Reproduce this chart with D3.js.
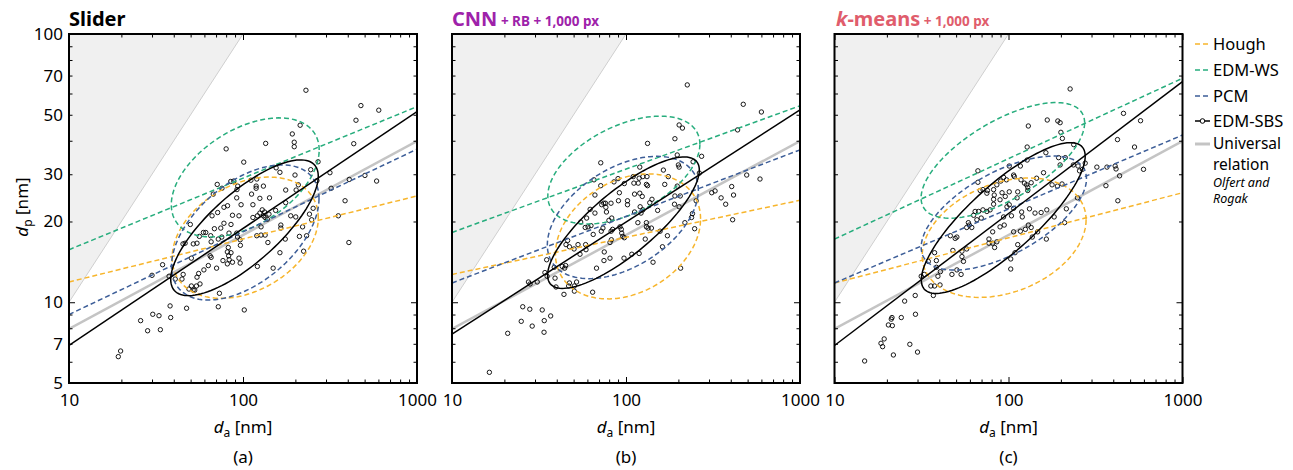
<!DOCTYPE html>
<html><head><meta charset="utf-8">
<script src="https://cdn.jsdelivr.net/npm/d3@7"></script>
<style>body{margin:0;background:#fff}text{font-family:"Noto Sans",sans-serif}</style>
</head><body>
<svg id="c" width="1293" height="470"></svg>
<script>
// ---------- data ----------
const methods = ["Hough", "EDM-WS", "PCM", "EDM-SBS"];
const methodColors = ["#f7b52c", "#27ad7d", "#3d5e98", "#000000"];
const panelTags = ["(a)", "(b)", "(c)"];
const xTickLabels = [10, 100, 1000];
const yTickLabels = [5, 7, 10, 20, 30, 50, 70, 100];
const lineEndsDa = [10, 1000];
const universalDp = [7.95, 39.9];

// fit lines: dp at da = 10 and da = 1000, order = methods
const sliderFitStart = [11.9, 15.7, 9.0, 6.9];
const sliderFitEnd   = [24.9, 53.6, 37.2, 51.4];
const cnnFitStart    = [12.7, 18.2, 11.8, 7.6];
const cnnFitEnd      = [24.0, 54.0, 37.0, 52.1];
const kmeansFitStart = [11.8, 17.2, 11.8, 6.9];
const kmeansFitEnd   = [25.6, 68.4, 42.0, 66.4];

// ellipses (log space): centre da, centre dp, half-width (decades), half-height (decades), correlation
const sliderEllDa = [103, 103, 103, 102];
const sliderEllDp = [17.4, 29.2, 18.2, 18.95];
const sliderEllSx = [0.42, 0.425, 0.424, 0.424];
const sliderEllSy = [0.226, 0.222, 0.252, 0.253];
const sliderEllR  = [0.33, 0.46, 0.5, 0.76];
const cnnEllDa = [102.7, 97.2, 95.9, 96.7];
const cnnEllDp = [17.6, 31.1, 20.7, 19.8];
const cnnEllSx = [0.417, 0.437, 0.434, 0.436];
const cnnEllSy = [0.233, 0.201, 0.228, 0.245];
const cnnEllR  = [0.28, 0.48, 0.45, 0.8];
const kmeansEllDa = [94.4, 92.8, 94, 93.3];
const kmeansEllDp = [17.4, 33.8, 21.5, 20.6];
const kmeansEllSx = [0.471, 0.47, 0.475, 0.471];
const kmeansEllSy = [0.2225, 0.2155, 0.2125, 0.281];
const kmeansEllR  = [0.3, 0.65, 0.6, 0.82];

// EDM-SBS particles [da, dp] (nm)
const sliderPoints = [[230,61.7],[476,54.1],[603,52.0],[446,47.7],[433,39.0],[213,45.7],[192,42.4],[197,39.5],[197,38.0],[135,39.1],
[80,37.3],[101,33.3],[155,31.7],[163,30.5],[199,29.8],[245,31.2],[270,33.4],[316,30.4],[408,28.7],[321,26.6],
[266,28.4],[85,28.2],[88.5,28.3],[71.1,27.5],[75.7,26.6],[93.3,27.1],[92.3,26.3],[111,28.5],[120,28.8],[119,27.1],
[119,26.6],[131,27.1],[176,26.2],[67.5,25.3],[112,25.3],[92,24.5],[125,24.4],[142,24.5],[202,26.2],[386,23.9],
[353,21.0],[406,16.7],[81.5,22.9],[77.7,22.6],[87,21.1],[94.8,21.0],[66.4,21.0],[71.5,21.6],[49.8,19.5],[68.5,18.8],
[74.5,18.9],[77.7,19.7],[85.3,19.5],[114,20.7],[121,21.0],[125,21.5],[129,22.1],[131,21.0],[134,20.7],[138,20.4],
[133,21.7],[97.5,23.1],[114,23.1],[154,22.0],[141,21.3],[188,21.0],[201,20.8],[241,21.3],[248,20.3],[165,19.4],
[165,18.9],[220,19.1],[127,19.1],[59.2,18.2],[61.1,18.2],[65.2,17.7],[56.1,17.6],[83.1,18.1],[92,18.1],[93,17.5],
[96.3,17.1],[72.1,17.2],[75.5,17.5],[51.8,16.5],[54.4,16.6],[65.6,16.8],[46.5,16.6],[120,17.7],[127,17.8],[134,17.8],
[139,16.7],[175,17.2],[211,17.6],[232,17.7],[96.6,16.3],[82.3,16.0],[81.3,15.4],[85.3,15.3],[82.7,14.9],[64.7,14.9],
[65.6,14.7],[223,15.5],[163,15.3],[50.5,14.6],[76.7,14.3],[81.3,13.9],[87,14.1],[83.3,14.4],[94.8,14.6],[96.3,14.0],
[70.5,13.4],[63.2,13.7],[59.6,13.2],[55.6,12.8],[54.4,12.4],[56.6,11.7],[50.5,11.5],[48.9,11.2],[51.7,11.1],[54,11.5],
[52.8,11.1],[121,13.6],[149,13.4],[73.2,10.8],[38.1,9.69],[47.4,9.5],[72.1,9.62],[101.7,9.36],[30.3,9.02],[32.9,8.91],
[38.4,8.77],[34.5,13.8],[30,12.6],[37.6,12.5],[40.8,12.2],[45.3,12.7],[44.6,12.2],[45.2,16.5],[502,29.7],[586,28.3],
[208,27.4],[253,22.4],[176,23.5],[25.8,8.54],[28.3,7.83],[33.5,7.9],[19.2,6.27],[19.8,6.58]];

const cnnPoints = [[225,64.6],[472,54.7],[600,51.2],[438,43.9],[202,45.8],[211,44.6],[191,40.7],[133,39.1],[197,35.4],[272,35.0],
[71.6,33.1],[200,32.5],[202,31.9],[243,33.4],[120,31.9],[164,31.1],[65.5,28.6],[71.6,27.2],[85.3,28.1],[90,28.9],
[97.8,27.7],[110,29.4],[119,29.0],[125,29.4],[132,29.4],[111,27.8],[117.6,27.8],[131,27.5],[133,27.2],[167,27.5],
[175,29.4],[197,27.1],[91.6,25.6],[66.3,25.1],[62.2,22.2],[66.3,21.5],[72.5,23.1],[74.5,23.4],[76.2,23.4],[82,23.4],
[90.5,23.9],[102,23.9],[102,23.1],[112,25.3],[120,25.5],[124,24.8],[137,23.5],[141,24.2],[152,22.0],[112,21.7],
[122,21.5],[125,22.1],[120.6,22.7],[190,23.2],[202,22.7],[205,24.9],[191,24.9],[253,23.9],[241,21.4],[238,20.7],
[248,18.8],[218,19.8],[311,25.6],[325,26.0],[352,24.5],[374,23.2],[405,27.0],[415,25.1],[410,20.3],[494,29.8],
[589,28.8],[59.4,20.6],[60.5,19.1],[62.9,19.3],[58.3,19.0],[54.9,19.9],[64.8,17.9],[72.1,18.4],[73.7,18.9],[82.1,18.4],
[83.8,18.7],[82.4,17.1],[80.9,16.7],[92.3,19.1],[94,18.7],[94.5,18.1],[95.8,17.6],[97.8,17.4],[117,19.8],[131,19.8],
[134,18.9],[140,18.9],[131,19.1],[157,18.4],[173,17.7],[129,17.2],[162,16.1],[206,13.4],[143,14.1],[46.2,17.0],
[45.2,16.4],[50.3,15.8],[47.3,16.1],[53,16.4],[58.6,16.4],[58.9,15.7],[54.4,15.1],[75,15.4],[74.7,14.3],[80.9,14.6],
[97.4,14.6],[108,15.1],[119,15.2],[67.7,13.4],[35,14.4],[34.2,12.9],[35.2,12.5],[39.1,12.3],[43,13.6],[45,13.7],
[44.4,13.4],[38.7,13.5],[27.5,11.9],[28.1,11.7],[30.9,11.9],[39.6,11.4],[44,10.7],[46.8,11.5],[50.5,11.5],[50.5,11.0],
[47.3,11.8],[52,11.9],[64.3,10.9],[25.5,9.62],[28,9.42],[33,9.36],[36.9,8.89],[25,8.49],[28.9,8.15],[33.9,8.54],
[33.8,7.73],[20.9,7.66],[16.4,5.48],[264,30.3],[76.6,22.6],[77.2,21.7],[79.8,20.2],[82.8,20.6]];

const kmeansPoints = [[226,62.4],[458,50.6],[574,47.5],[130,45.4],[167,47.8],[192,47.4],[198,46.7],[200,43.0],[204,40.8],[128,37.9],
[237,38.7],[423,40.4],[530,37.9],[164,36.1],[194,34.6],[212,34.6],[128,33.9],[117,32.2],[101,32.2],[66.7,30.9],
[66.7,28.0],[68.8,26.1],[71.3,26.3],[75.1,25.5],[75.7,26.1],[82.1,26.3],[82.8,25.1],[82.1,24.2],[82.1,23.2],[85.7,27.4],
[90.2,28.3],[93.8,29.2],[97.4,28.6],[107,29.8],[108,29.4],[118,28.6],[123.5,27.8],[127,27.4],[129,26.8],[129,26.1],
[135,27.9],[145,29.0],[159,30.4],[178,27.4],[191,27.1],[203,27.6],[251,32.2],[256,30.9],[266,31.3],[276,33.0],
[198,32.5],[236,32.5],[322,31.9],[368,31.9],[410,32.2],[415,31.4],[435,29.6],[597,31.3],[363,27.2],[425,23.9],
[249,24.5],[215,22.3],[183,20.8],[210,19.8],[166,22.1],[154,21.6],[142,21.5],[132,22.3],[107,22.4],[119,21.7],
[120,20.8],[104,21.0],[93.7,20.8],[98,22.7],[101,23.1],[112,24.5],[95.8,24.8],[89.4,24.1],[91.8,25.6],[101,25.8],
[113,25.8],[57.5,19.0],[61.5,19.0],[58.8,19.8],[59.6,19.4],[65.8,20.3],[69.7,20.6],[63,21.1],[64.3,21.8],[67.3,21.8],
[71.3,22.1],[75.1,21.8],[78.4,22.1],[46.3,17.7],[49.4,17.3],[50.5,17.5],[47.9,15.6],[54,15.5],[57.5,15.8],[55.1,14.2],
[54,14.8],[77.2,17.2],[81.1,16.6],[85.7,16.8],[83.2,16.0],[77.2,16.6],[81.1,18.3],[89.4,19.1],[94.5,19.4],[107,18.3],
[117,18.4],[125,18.7],[130,19.4],[135,19.0],[137,17.5],[165,17.2],[147,18.3],[113,16.4],[109,15.3],[103,14.5],
[103,13.3],[47.3,12.7],[50.5,13.2],[53.4,12.7],[40.6,13.0],[39.3,12.5],[38.5,13.5],[38.5,14.3],[34.6,14.2],[37.6,15.3],
[31.5,12.5],[32.8,12.7],[35.8,11.5],[37.6,11.5],[40.4,11.6],[37,10.6],[29.1,10.6],[25.3,10.1],[29.2,9.02],[24.2,8.77],
[21.4,8.77],[21.2,8.65],[20.4,8.23],[21.5,8.18],[19.3,7.3],[18.5,7.03],[18.9,6.83],[27.1,6.97],[30,6.52],[21.8,6.36],
[14.9,6.04]];

// ---------- layout ----------
const svg = d3.select("#c");
const W = 348, H = 349, TOP = 34;
const lefts = [69, 452, 834.5];
const x = d3.scaleLog().domain([10, 1000]).range([0, W]);
const y = d3.scaleLog().domain([5, 100]).range([H, 0]);

const panels = [
  {pts: sliderPoints, fs: sliderFitStart, fe: sliderFitEnd, eda: sliderEllDa, edp: sliderEllDp, esx: sliderEllSx, esy: sliderEllSy, er: sliderEllR},
  {pts: cnnPoints, fs: cnnFitStart, fe: cnnFitEnd, eda: cnnEllDa, edp: cnnEllDp, esx: cnnEllSx, esy: cnnEllSy, er: cnnEllR},
  {pts: kmeansPoints, fs: kmeansFitStart, fe: kmeansFitEnd, eda: kmeansEllDa, edp: kmeansEllDp, esx: kmeansEllSx, esy: kmeansEllSy, er: kmeansEllR}
];

const lineGen = d3.line().x(d => x(d[0])).y(d => y(d[1]));
const dash = "5,3";

function ellipsePts(da, dp, sx, sy, r) {
  const out = [];
  const cx = Math.log10(da), cy = Math.log10(dp), s = Math.sqrt(1 - r * r);
  for (let i = 0; i <= 120; i++) {
    const t = i / 120 * 2 * Math.PI;
    const lx = cx + sx * Math.cos(t);
    const ly = cy + sy * (r * Math.cos(t) + s * Math.sin(t));
    out.push([Math.pow(10, lx), Math.pow(10, ly)]);
  }
  return out;
}

const xMinor = [20,30,40,50,60,70,80,90,200,300,400,500,600,700,800,900];
const yMinor = [5,6,7,8,9,20,30,40,50,60,70,80,90];
const xMajor = [10,100,1000];
const yMajor = [10,100];

panels.forEach((p, i) => {
  const g = svg.append("g").attr("transform", `translate(${lefts[i]},${TOP})`);
  const cid = "clip" + i;
  g.append("clipPath").attr("id", cid).append("rect").attr("width", W).attr("height", H);
  const pg = g.append("g").attr("clip-path", `url(#${cid})`);

  // shaded forbidden region (dp > da)
  pg.append("path").attr("d", lineGen([[10,10],[100,100],[10,100]]) + "Z").attr("fill", "#f0f0f0");
  pg.append("path").attr("d", lineGen([[10,10],[100,100]])).attr("stroke", "#cfcfcf").attr("stroke-width", 1).attr("fill", "none");

  // universal relation
  pg.append("path").attr("d", lineGen(lineEndsDa.map((d, k) => [d, universalDp[k]])))
    .attr("stroke", "#c4c4c4").attr("stroke-width", 2.5).attr("fill", "none");

  // points
  pg.selectAll("circle.pt").data(p.pts).join("circle").attr("class", "pt")
    .attr("cx", d => x(d[0])).attr("cy", d => y(d[1])).attr("r", 2.2)
    .attr("fill", "none").attr("stroke", "#000").attr("stroke-width", 0.9);

  // fit lines and ellipses
  methods.forEach((m, k) => {
    const isDash = k < 3;
    pg.append("path").attr("d", lineGen([[lineEndsDa[0], p.fs[k]], [lineEndsDa[1], p.fe[k]]]))
      .attr("stroke", methodColors[k]).attr("stroke-width", 1.5).attr("fill", "none")
      .attr("stroke-dasharray", isDash ? dash : null);
    pg.append("path").attr("d", lineGen(ellipsePts(p.eda[k], p.edp[k], p.esx[k], p.esy[k], p.er[k])) + "Z")
      .attr("stroke", methodColors[k]).attr("stroke-width", 1.5).attr("fill", "none")
      .attr("stroke-dasharray", isDash ? dash : null);
  });

  // axes with inside ticks
  const fontSize = 17;
  const bx = g.append("g").attr("transform", `translate(0,${H})`)
    .call(d3.axisBottom(x).tickValues(xMajor).tickFormat(d3.format("d")).tickSizeInner(-6).tickSizeOuter(0).tickPadding(11));
  bx.selectAll("text").attr("font-size", fontSize).attr("fill", "#000").style("font-family", '"Noto Sans",sans-serif');
  g.append("g").attr("transform", `translate(0,${H})`)
    .call(d3.axisBottom(x).tickValues(xMinor).tickFormat("").tickSizeInner(-3.5).tickSizeOuter(0));
  g.append("g").call(d3.axisTop(x).tickValues(xMajor).tickFormat("").tickSizeInner(-6).tickSizeOuter(0));
  g.append("g").call(d3.axisTop(x).tickValues(xMinor).tickFormat("").tickSizeInner(-3.5).tickSizeOuter(0));
  const ly = g.append("g")
    .call(d3.axisLeft(y).tickValues(i === 0 ? yTickLabels : []).tickFormat(d3.format("d")).tickSize(0).tickPadding(6));
  ly.selectAll("text").attr("font-size", fontSize).attr("fill", "#000").style("font-family", '"Noto Sans",sans-serif');
  g.append("g").call(d3.axisLeft(y).tickValues(yMajor).tickFormat("").tickSizeInner(-6).tickSizeOuter(0));
  g.append("g").call(d3.axisLeft(y).tickValues(yMinor).tickFormat("").tickSizeInner(-3.5).tickSizeOuter(0));
  g.append("g").attr("transform", `translate(${W},0)`).call(d3.axisRight(y).tickValues(yMajor).tickFormat("").tickSizeInner(-6).tickSizeOuter(0));
  g.append("g").attr("transform", `translate(${W},0)`).call(d3.axisRight(y).tickValues(yMinor).tickFormat("").tickSizeInner(-3.5).tickSizeOuter(0));
  g.selectAll(".domain").remove();
  g.selectAll(".tick line").attr("stroke", "#000").attr("stroke-width", 1);

  g.append("rect").attr("width", W).attr("height", H).attr("fill", "none").attr("stroke", "#000").attr("stroke-width", 2);

  // x label
  const xl = g.append("text").attr("x", W / 2).attr("y", H + 50).attr("text-anchor", "middle").attr("font-size", 17);
  xl.append("tspan").attr("font-style", "italic").text("d");
  xl.append("tspan").attr("font-size", 12).attr("dy", 4).text("a");
  xl.append("tspan").attr("dy", -4).text(" [nm]");
  g.append("text").attr("x", W / 2).attr("y", H + 80).attr("text-anchor", "middle").attr("font-size", 17).text(panelTags[i]);
});

// y label
const yl = svg.append("text").attr("transform", "translate(28,207) rotate(-90)").attr("text-anchor", "middle").attr("font-size", 17);
yl.append("tspan").attr("font-style", "italic").text("d");
yl.append("tspan").attr("font-size", 12).attr("dy", 4).text("p");
yl.append("tspan").attr("dy", -4).text(" [nm]");

// titles
svg.append("text").attr("x", 69).attr("y", 26).attr("font-size", 20).attr("font-weight", "bold").attr("fill", "#000").text("Slider");
const t2 = svg.append("text").attr("x", 452).attr("y", 26).attr("font-weight", "bold").attr("fill", "#9e22aa");
t2.append("tspan").attr("font-size", 20).text("CNN");
t2.append("tspan").attr("font-size", 13.5).text(" + RB + 1,000 px");
const t3 = svg.append("text").attr("x", 836).attr("y", 26).attr("font-weight", "bold").attr("fill", "#e05d6c");
t3.append("tspan").attr("font-size", 20).attr("font-style", "italic").text("k");
t3.append("tspan").attr("font-size", 20).text("-means");
t3.append("tspan").attr("font-size", 13.5).text(" + 1,000 px");

// legend
const lg = svg.append("g");
const legY = [44, 70, 96, 121];
methods.forEach((m, k) => {
  lg.append("line").attr("x1", 1195).attr("x2", 1210).attr("y1", legY[k]).attr("y2", legY[k])
    .attr("stroke", methodColors[k]).attr("stroke-width", 1.5).attr("stroke-dasharray", k < 3 ? "5,3" : null);
  if (k === 3) lg.append("circle").attr("cx", 1202.5).attr("cy", legY[k]).attr("r", 2.3).attr("fill", "#fff").attr("stroke", "#000").attr("stroke-width", 1);
  lg.append("text").attr("x", 1213).attr("y", legY[k] + 6).attr("font-size", 16.5).text(m);
});
lg.append("line").attr("x1", 1195).attr("x2", 1210).attr("y1", 144).attr("y2", 144).attr("stroke", "#c4c4c4").attr("stroke-width", 3);
lg.append("text").attr("x", 1213).attr("y", 149).attr("font-size", 15.5).text("Universal");
lg.append("text").attr("x", 1213).attr("y", 170).attr("font-size", 15.5).text("relation");
lg.append("text").attr("x", 1213).attr("y", 187).attr("font-size", 12.5).attr("font-style", "italic").text("Olfert and");
lg.append("text").attr("x", 1213).attr("y", 203).attr("font-size", 12.5).attr("font-style", "italic").text("Rogak");
</script>
</body></html>
